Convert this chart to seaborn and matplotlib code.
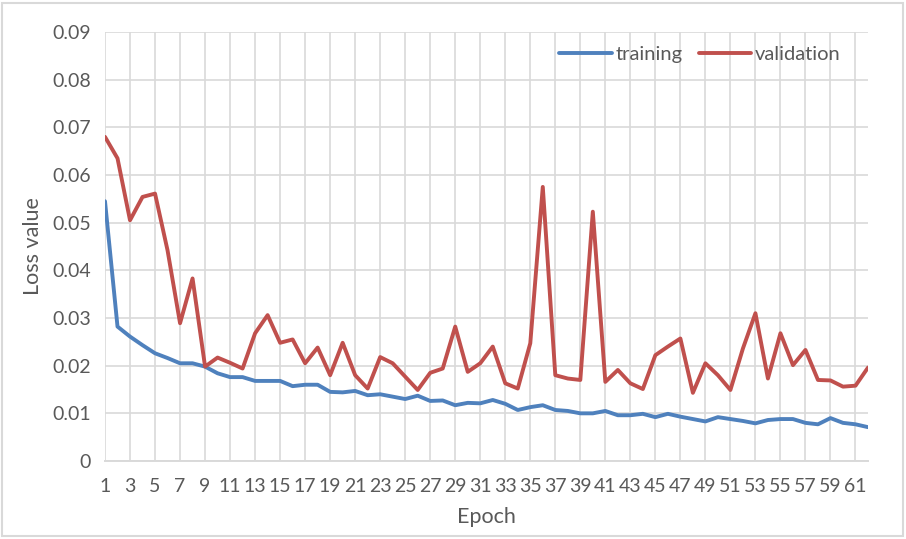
import numpy as np
import pandas as pd
import seaborn as sns
from matplotlib import pyplot as plt
from matplotlib.patches import Rectangle

# loss values, one per epoch
epochs = list(range(1, 63))
training = [0.0545, 0.0282, 0.0261, 0.0243, 0.0226, 0.0216, 0.0205, 0.0205, 0.0198, 0.0184,
            0.0176, 0.0176, 0.0168, 0.0168, 0.0168, 0.0157, 0.0160, 0.0160, 0.0145, 0.0144,
            0.0147, 0.0138, 0.0140, 0.0135, 0.0130, 0.0137, 0.0126, 0.0127, 0.0117, 0.0122,
            0.0121, 0.0128, 0.0120, 0.0107, 0.0113, 0.0117, 0.0107, 0.0105, 0.0100, 0.0100,
            0.0105, 0.0096, 0.0096, 0.0099, 0.0092, 0.0099, 0.0093, 0.0088, 0.0083, 0.0092,
            0.0088, 0.0084, 0.0079, 0.0086, 0.0088, 0.0088, 0.0080, 0.0077, 0.0090, 0.0080,
            0.0077, 0.0071]
validation = [0.0680, 0.0635, 0.0505, 0.0554, 0.0561, 0.0442, 0.0289, 0.0383, 0.0198, 0.0217,
              0.0206, 0.0194, 0.0268, 0.0306, 0.0248, 0.0255, 0.0205, 0.0238, 0.0180, 0.0248,
              0.0180, 0.0152, 0.0218, 0.0205, 0.0177, 0.0149, 0.0185, 0.0194, 0.0282, 0.0187,
              0.0205, 0.0240, 0.0163, 0.0152, 0.0247, 0.0575, 0.0180, 0.0173, 0.0170, 0.0523,
              0.0166, 0.0191, 0.0163, 0.0151, 0.0222, 0.0240, 0.0257, 0.0143, 0.0205, 0.0180,
              0.0149, 0.0236, 0.0310, 0.0173, 0.0268, 0.0201, 0.0233, 0.0170, 0.0169, 0.0156,
              0.0158, 0.0196]
series_names = ["training", "validation"]
y_ticks = [0, 0.01, 0.02, 0.03, 0.04, 0.05, 0.06, 0.07, 0.08, 0.09]
y_labels = ["0", "0.01", "0.02", "0.03", "0.04", "0.05", "0.06", "0.07", "0.08", "0.09"]

df = pd.DataFrame({
    "Epoch": epochs * 2,
    "Loss": training + validation,
    "series": ["training"] * len(epochs) + ["validation"] * len(epochs),
})

sns.set_style("white")
plt.rcParams["font.family"] = ["Lato", "DejaVu Sans"]
grey_text = "#595959"
grid_col = "#D9D9D9"

fig = plt.figure(figsize=(9.06, 5.39), dpi=100)
ax = fig.add_axes([105 / 906, 1 - 461 / 539, (868 - 105) / 906, (461 - 32) / 539])

sns.lineplot(data=df, x="Epoch", y="Loss", hue="series", hue_order=series_names,
             palette=["#4F81BD", "#C0504D"], linewidth=2.8, ax=ax,
             solid_joinstyle="round", solid_capstyle="round", legend=False)

ax.set_xlim(1, 62)
ax.set_ylim(0, 0.09)
ax.set_xticks(list(range(1, 62, 2)))
ax.set_yticks(y_ticks)
ax.set_yticklabels(y_labels)
ax.grid(True, color=grid_col, linewidth=1.2)
ax.set_axisbelow(True)
for side in ["top", "right", "left"]:
    ax.spines[side].set_visible(False)
ax.spines["bottom"].set_color(grid_col)
ax.spines["bottom"].set_linewidth(1.4)
ax.tick_params(axis="both", length=0, labelsize=14, colors=grey_text)
ax.tick_params(axis="y", pad=10)
ax.tick_params(axis="x", pad=12)
ax.set_xlabel("Epoch", fontsize=15.5, color=grey_text, labelpad=9)
ax.set_ylabel("Loss value", fontsize=15.5, color=grey_text, labelpad=7)

handles = [plt.Line2D([], [], color=c, linewidth=2.8) for c in ["#4F81BD", "#C0504D"]]
leg = ax.legend(handles, series_names, loc="upper right", bbox_to_anchor=(851 / 906, 1 - 36 / 539),
                bbox_transform=fig.transFigure, ncol=2, frameon=False, fontsize=14.5,
                handlelength=2.6, handletextpad=0.2, columnspacing=0.8, borderpad=0)
for t in leg.get_texts():
    t.set_color(grey_text)

fig.patches.append(Rectangle((2 / 906, 3 / 539), 901 / 906, 533 / 539, transform=fig.transFigure,
                             fill=False, edgecolor=grid_col, linewidth=1.5))

fig.savefig("out.png", dpi=100)
